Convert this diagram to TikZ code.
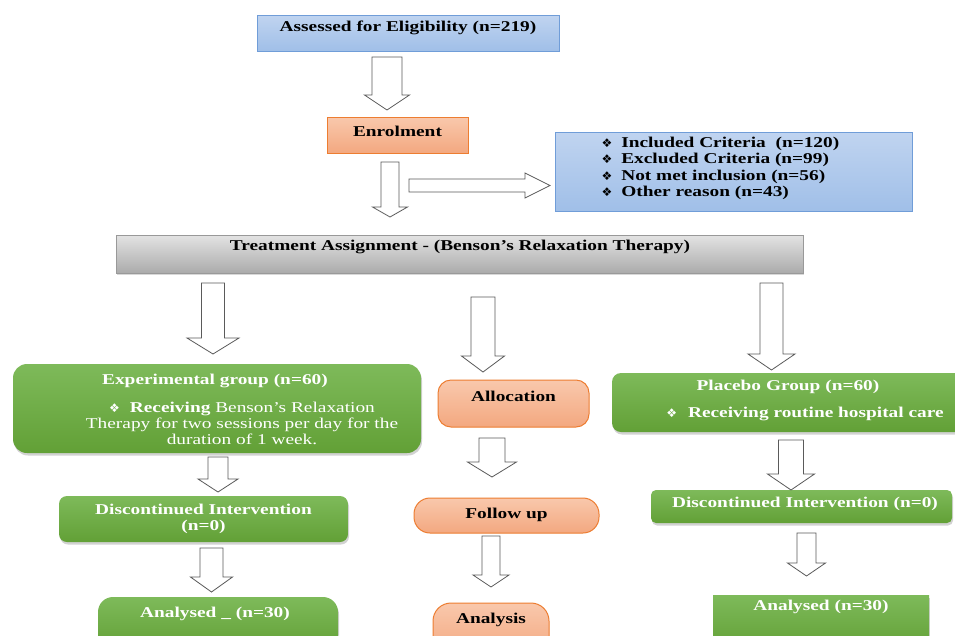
\documentclass[tikz,border=0pt]{standalone}
\usepackage{fontspec}
\setmainfont[FakeStretch=1.29]{Liberation Serif}
\newfontfamily\symfont{DejaVu Sans}
\usepackage{tikz}
\usetikzlibrary{shadows}
\definecolor{bluetop}{RGB}{192,212,240}
\definecolor{bluebot}{RGB}{160,191,232}
\definecolor{blueline}{RGB}{112,157,216}
\definecolor{orangetop}{RGB}{249,200,172}
\definecolor{orangebot}{RGB}{243,168,128}
\definecolor{orangeline}{RGB}{237,125,49}
\definecolor{greentop}{RGB}{126,186,90}
\definecolor{greenbot}{RGB}{98,160,54}
\definecolor{arrowline}{RGB}{90,90,90}

\newcommand{\dia}{{\symfont\fontsize{12}{12}\selectfont\char"2756}}
% hollow block arrows: x, top, tip, shaft half width, head half width, head length
\newcommand{\downblock}[6]{%
  \draw[blockarrow] (#1-#4,#2) -- (#1+#4,#2) -- (#1+#4,#3-#6) -- (#1+#5,#3-#6)
    -- (#1,#3) -- (#1-#5,#3-#6) -- (#1-#4,#3-#6) -- cycle;}
% y, start, tip, shaft half width, head half width, head length
\newcommand{\rightblock}[6]{%
  \draw[blockarrow] (#2,#1-#4) -- (#3-#6,#1-#4) -- (#3-#6,#1-#5) -- (#3,#1)
    -- (#3-#6,#1+#5) -- (#3-#6,#1+#4) -- (#2,#1+#4) -- cycle;}

\begin{document}
\begin{tikzpicture}[x=1pt, y=-1pt,
    every node/.style={font=\fontsize{15}{16}\selectfont\bfseries},
    bluebox/.style={draw=blueline, line width=1pt, top color=bluetop, bottom color=bluebot},
    orangebox/.style={draw=orangeline, line width=1pt, top color=orangetop, bottom color=orangebot},
    greenbox/.style={top color=greentop, bottom color=greenbot,
      drop shadow={opacity=0.35, shadow xshift=1pt, shadow yshift=-2.5pt}},
    graybar/.style={draw=gray!80, top color=gray!22, bottom color=gray!66,
      drop shadow={opacity=0.3, shadow xshift=1pt, shadow yshift=-2pt}},
    wtext/.style={text=white},
    blockarrow/.style={draw=arrowline, line width=0.8pt, fill=white, line join=miter}]
  \clip (0,0) rectangle (955,635);
  \fill[white] (0,0) rectangle (955,635);

  % boxes
  \node[bluebox, minimum width=302pt, minimum height=36pt] (assess) at (408,33) {};
  \node[orangebox, minimum width=141pt, minimum height=36pt] (enrol) at (397.5,135) {};
  \node[bluebox, minimum width=357pt, minimum height=79pt] (crit) at (733.5,171.5) {};
  \node[graybar, minimum width=687pt, minimum height=38pt] (treat) at (459.5,254) {};
  \node[greenbox, rounded corners=14pt, minimum width=408pt, minimum height=89pt] (exp) at (217,408.5) {};
  \node[orangebox, rounded corners=13pt, minimum width=151pt, minimum height=47pt] (alloc) at (513.5,403.5) {};
  \node[greenbox, rounded corners=9pt, minimum width=353pt, minimum height=59pt] (plac) at (788.5,402.5) {};
  \node[greenbox, rounded corners=8pt, minimum width=289pt, minimum height=46pt] (discE) at (203.5,519) {};
  \node[orangebox, rounded corners=16pt, minimum width=185pt, minimum height=35pt] (follow) at (506.5,515.5) {};
  \node[greenbox, rounded corners=5pt, minimum width=301pt, minimum height=33pt] (discP) at (801.5,506.5) {};
  \node[greenbox, rounded corners=15pt, minimum width=240pt, minimum height=53pt] (anaE) at (218,623.5) {};
  \node[orangebox, rounded corners=18pt, minimum width=116pt, minimum height=52pt] (analysis) at (491,629) {};
  \node[greenbox, minimum width=216pt, minimum height=55pt] (anaP) at (821,622.5) {};

  % texts
  \node (assesstxt) at (408,28) {Assessed for Eligibility (n=219)};
  \node (enroltxt) at (397.5,131) {Enrolment};
  \node[anchor=west, align=left, font=\fontsize{15}{16.3}\selectfont\bfseries] (crittxt) at (598,168.5)
    {\dia\hspace{9pt}Included Criteria~ (n=120)\\
     \dia\hspace{9pt}Excluded Criteria (n=99)\\
     \dia\hspace{9pt}Not met inclusion (n=56)\\
     \dia\hspace{9pt}Other reason (n=43)};
  \node (treattxt) at (460,247) {Treatment Assignment - (Benson’s Relaxation Therapy)};
  \node[wtext] (exptitle) at (215,381) {Experimental group (n=60)};
  \node[wtext, align=center, font=\fontsize{15}{16}\selectfont] (exptxt) at (242,423)
    {\dia\hspace{10pt}\textbf{Receiving} Benson’s Relaxation\\
     Therapy for two sessions per day for the\\
     duration of 1 week.};
  \node (alloctxt) at (513.5,396) {Allocation};
  \node[wtext] (plactitle) at (788,387) {Placebo Group (n=60)};
  \node[wtext] (plactxt) at (805,414) {\dia\hspace{11pt}Receiving routine hospital care};
  \node[wtext, align=center] (discEtxt) at (203.5,518.5) {Discontinued Intervention\\(n=0)};
  \node (followtxt) at (506.5,515) {Follow up};
  \node[wtext] (discPtxt) at (805,504) {Discontinued Intervention (n=0)};
  \node[wtext] (anaEtxt) at (215,614) {Analysed \_ (n=30)};
  \node (analysistxt) at (491,620) {Analysis};
  \node[wtext] (anaPtxt) at (821,607) {Analysed (n=30)};

  % arrows
  \downblock{387}{57}{110}{15}{22.5}{15}
  \downblock{390}{162}{217}{9}{17.5}{10}
  \rightblock{185.5}{409}{550}{6.5}{12.5}{25}
  \downblock{213}{283}{354}{11.5}{26}{16}
  \downblock{483}{297}{372}{12}{21.5}{16}
  \downblock{771.5}{283}{370}{11.5}{23.5}{16}
  \downblock{218}{457}{492}{10}{20}{13}
  \downblock{492}{438}{477}{13}{24.5}{15}
  \downblock{791}{440}{490}{12.5}{23.5}{16}
  \downblock{211.5}{548}{592}{11.5}{21}{15}
  \downblock{491}{536}{587}{9}{18}{12}
  \downblock{806.5}{533}{576}{9.5}{19}{13}
\end{tikzpicture}
\end{document}
